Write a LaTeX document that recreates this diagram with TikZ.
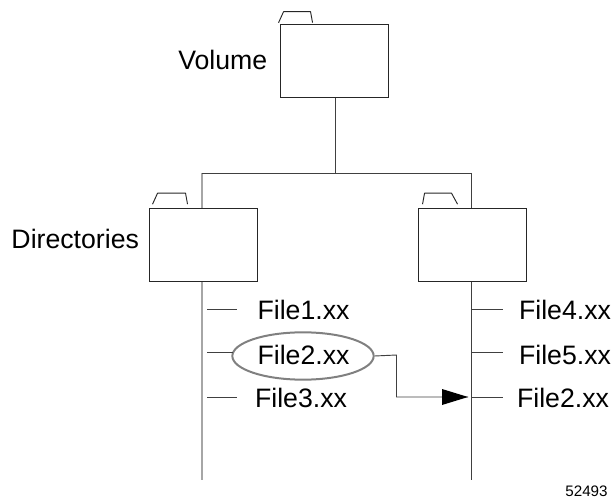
\documentclass[tikz,border=0pt]{standalone}
\usepackage{fontspec}
\setmainfont{Liberation Sans}
\usetikzlibrary{positioning,shapes.geometric}

\tikzset{
    folder/.style={draw=black!85,rectangle,minimum width=81pt,minimum height=54.5pt,inner sep=0pt,line width=0.7pt},
    tabline/.style={line width=0.7pt,line join=round,black!85},
    wire/.style={line width=0.7pt,black!75},
    greywire/.style={line width=1.5pt,black!35},
    label/.style={font=\fontsize{20}{22}\selectfont,inner sep=0pt},
}

\begin{document}
\begin{tikzpicture}[x=0.75pt,y=-0.75pt]
\useasboundingbox (0,0) rectangle (613,498);

% trees are drawn first, the boxes go on top
\coordinate (branch) at (335,173);
\coordinate (topleft) at (202,173);
\coordinate (topright) at (471.5,173);
\coordinate (endleft) at (202,480);
\coordinate (endright) at (471.5,480);
\coordinate (volumefoot) at (335,97);
\draw[greywire] (topleft) -- (endleft);
\draw[wire] (topright) -- (endright);
\draw[wire] (topleft) -- (topright);
\draw[wire] (volumefoot) -- (branch);

\foreach \name/\x/\y/\a/\b/\c/\d/\e in {volume/334/61/-1/-1.5/5/27/2, dirleft/203/245/4/-4/5/28/2, dirright/472/245/5/-4/2/27/6} {
    \node[folder,fill=white] (\name) at (\x,\y) {};
    \draw[tabline] (\name.north west) ++ (\a,\b) -- ++ (\c,-11) -- ++ (\d,0) -- ++ (\e,11);
}

\node[label,left=9pt of volume.west,yshift=1pt] (volumelabel) {Volume};
\node[label,left=7pt of dirleft.west,yshift=4.5pt] (dirlabel) {Directories};

\foreach \name/\x/\y/\text in {fileone/303.5/310/File1.xx, filetwo/303.5/355/File2.xx, filethree/301/398/File3.xx,
    filefour/565/310/File4.xx, filefive/565/355/File5.xx, filesix/563/398/File2.xx} {
    \node[label] (\name) at (\x,\y) {\text};
}

\node[ellipse,draw=black!50,line width=1.5pt,minimum width=106pt,minimum height=35.5pt,inner sep=0pt] (circled) at (303,356) {};

\foreach \y/\len in {309/237, 352/233, 397/237} {
    \draw[wire] (207,\y) -- (\len,\y);
}
\foreach \y in {309, 352, 397} {
    \draw[wire] (471.5,\y) -- (503,\y);
}

\coordinate (target) at (468,397);
\draw[wire] (circled.east) -- (396.5,355) -- (396.5,397) -- (target);
\fill (442,389) -- (target) -- (442,405) -- cycle;

\node[font=\fontsize{11.4}{13}\selectfont,inner sep=0pt] (figno) at (586.5,491) {52493};
\end{tikzpicture}
\end{document}
